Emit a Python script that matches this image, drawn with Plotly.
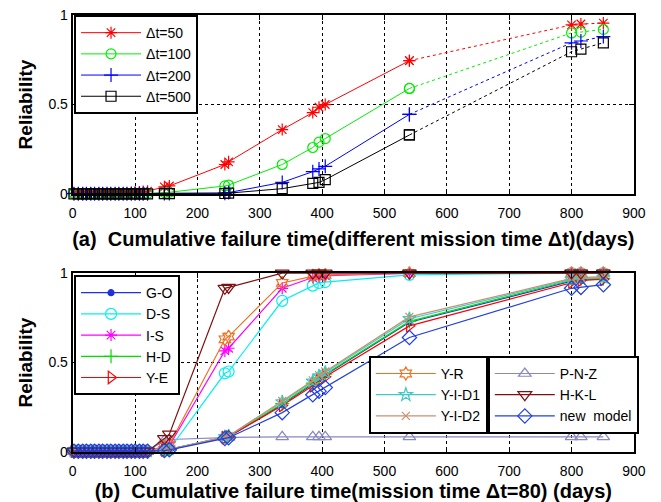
import plotly.graph_objects as go

# ---------------- data ----------------
times = [2, 9, 16, 22, 29, 35, 42, 48, 55, 61, 68, 74, 81, 87, 94, 100, 107, 113, 120,
         147, 155, 244, 250, 336, 385, 395, 405, 540, 800, 815, 851]
split_idx = 27  # index of t=540, after which lines are dotted in panel (a)

# panel (a): different mission time
dt50 = [0.005, 0.005, 0.005, 0.005, 0.005, 0.005, 0.005, 0.005, 0.005, 0.005, 0.005, 0.005, 0.005, 0.005,
        0.008, 0.010, 0.012, 0.014, 0.016, 0.040, 0.045, 0.165, 0.180, 0.360, 0.455, 0.485, 0.500,
        0.745, 0.945, 0.950, 0.955]
dt100 = [0.003, 0.003, 0.003, 0.003, 0.003, 0.003, 0.003, 0.003, 0.003, 0.003, 0.003, 0.003, 0.003, 0.003,
         0.003, 0.003, 0.003, 0.003, 0.003, 0.008, 0.010, 0.045, 0.050, 0.165, 0.260, 0.290, 0.310,
         0.590, 0.900, 0.905, 0.920]
dt200 = [0.002, 0.002, 0.002, 0.002, 0.002, 0.002, 0.002, 0.002, 0.002, 0.002, 0.002, 0.002, 0.002, 0.002,
         0.002, 0.002, 0.002, 0.002, 0.002, 0.003, 0.003, 0.005, 0.008, 0.065, 0.125, 0.140, 0.155,
         0.445, 0.845, 0.855, 0.880]
dt500 = [0.001, 0.001, 0.001, 0.001, 0.001, 0.001, 0.001, 0.001, 0.001, 0.001, 0.001, 0.001, 0.001, 0.001,
         0.001, 0.001, 0.001, 0.001, 0.001, 0.002, 0.002, 0.003, 0.005, 0.030, 0.060, 0.065, 0.080,
         0.330, 0.795, 0.810, 0.845]

# panel (b): models, mission time 80
go_m = [0.004, 0.004, 0.004, 0.004, 0.004, 0.004, 0.004, 0.004, 0.004, 0.004, 0.004, 0.004, 0.004, 0.004,
        0.004, 0.004, 0.004, 0.004, 0.004, 0.010, 0.015, 0.080, 0.085, 0.265, 0.380, 0.410, 0.430,
        0.725, 0.955, 0.960, 0.968]
ds_m = [0.005, 0.005, 0.005, 0.005, 0.005, 0.005, 0.005, 0.005, 0.005, 0.005, 0.005, 0.005, 0.005, 0.005,
        0.005, 0.005, 0.005, 0.005, 0.005, 0.010, 0.015, 0.440, 0.450, 0.845, 0.930, 0.945, 0.950,
        0.990, 1.000, 1.000, 1.000]
is_m = [0.005, 0.005, 0.005, 0.005, 0.005, 0.005, 0.005, 0.005, 0.005, 0.005, 0.005, 0.005, 0.005, 0.005,
        0.005, 0.005, 0.005, 0.005, 0.005, 0.030, 0.035, 0.565, 0.580, 0.915, 0.975, 0.980, 0.985,
        0.998, 1.000, 1.000, 1.000]
hd_m = [0.004, 0.004, 0.004, 0.004, 0.004, 0.004, 0.004, 0.004, 0.004, 0.004, 0.004, 0.004, 0.004, 0.004,
        0.004, 0.004, 0.004, 0.004, 0.004, 0.010, 0.015, 0.082, 0.088, 0.270, 0.385, 0.415, 0.435,
        0.730, 0.960, 0.965, 0.970]
ye_m = [0.004, 0.004, 0.004, 0.004, 0.004, 0.004, 0.004, 0.004, 0.004, 0.004, 0.004, 0.004, 0.004, 0.004,
        0.004, 0.004, 0.004, 0.004, 0.004, 0.010, 0.015, 0.080, 0.085, 0.260, 0.370, 0.400, 0.420,
        0.705, 0.950, 0.960, 0.965]
yr_m = [0.005, 0.005, 0.005, 0.005, 0.005, 0.005, 0.005, 0.005, 0.005, 0.005, 0.005, 0.005, 0.005, 0.005,
        0.005, 0.005, 0.005, 0.005, 0.005, 0.030, 0.040, 0.630, 0.645, 0.945, 0.985, 0.990, 0.990,
        1.000, 1.000, 1.000, 1.000]
yid1_m = [0.004, 0.004, 0.004, 0.004, 0.004, 0.004, 0.004, 0.004, 0.004, 0.004, 0.004, 0.004, 0.004, 0.004,
          0.004, 0.004, 0.004, 0.004, 0.004, 0.010, 0.015, 0.085, 0.090, 0.280, 0.395, 0.425, 0.445,
          0.745, 0.965, 0.970, 0.975]
yid2_m = [0.004, 0.004, 0.004, 0.004, 0.004, 0.004, 0.004, 0.004, 0.004, 0.004, 0.004, 0.004, 0.004, 0.004,
          0.004, 0.004, 0.004, 0.004, 0.004, 0.010, 0.015, 0.085, 0.090, 0.285, 0.400, 0.430, 0.450,
          0.755, 0.970, 0.975, 0.980]
pnz_m = [0.004, 0.004, 0.004, 0.004, 0.004, 0.004, 0.004, 0.004, 0.004, 0.004, 0.004, 0.004, 0.004, 0.004,
         0.004, 0.004, 0.004, 0.004, 0.004, 0.065, 0.070, 0.080, 0.082, 0.085, 0.085, 0.085, 0.085,
         0.085, 0.085, 0.085, 0.085]
hkl_m = [0.005, 0.005, 0.005, 0.005, 0.005, 0.005, 0.005, 0.005, 0.005, 0.005, 0.005, 0.005, 0.005, 0.005,
         0.005, 0.005, 0.005, 0.005, 0.005, 0.075, 0.100, 0.915, 0.920, 1.000, 1.000, 1.000, 1.000,
         1.000, 1.000, 1.000, 1.000]
new_m = [0.004, 0.004, 0.004, 0.004, 0.004, 0.004, 0.004, 0.004, 0.004, 0.004, 0.004, 0.004, 0.004, 0.004,
         0.004, 0.004, 0.004, 0.004, 0.004, 0.008, 0.012, 0.075, 0.080, 0.220, 0.320, 0.340, 0.360,
         0.640, 0.915, 0.920, 0.935]

x_ticks = [0, 100, 200, 300, 400, 500, 600, 700, 800, 900]
y_ticks = [0, 0.5, 1]
y_tick_text = ["0", "0.5", "1"]

FONT = "Liberation Sans, Arial, sans-serif"

fig = go.Figure()

# ---------------- panel (a) ----------------
panel_a = [
    ("Δt=50", dt50, "#ff0000", "asterisk-open"),
    ("Δt=100", dt100, "#00ee00", "circle-open"),
    ("Δt=200", dt200, "#0000ff", "cross-thin-open"),
    ("Δt=500", dt500, "#000000", "square-open"),
]
for name, vals, col, sym in panel_a:
    fig.add_trace(go.Scatter(
        x=times[:split_idx + 1], y=vals[:split_idx + 1], mode="lines+markers", name=name,
        line=dict(color=col, width=1), legendgroup=name, legend="legend",
        marker=dict(symbol=sym, size=10, color=col, line=dict(width=1.2, color=col)),
        cliponaxis=False, xaxis="x", yaxis="y"))
    fig.add_trace(go.Scatter(
        x=times[split_idx:], y=vals[split_idx:], mode="lines+markers", name=name,
        line=dict(color=col, width=1, dash="dot"), legendgroup=name, showlegend=False,
        marker=dict(symbol=sym, size=10, color=col, line=dict(width=1.2, color=col)),
        cliponaxis=False, xaxis="x", yaxis="y"))

# ---------------- panel (b) ----------------
panel_b = [
    ("P-N-Z", pnz_m, "#8888c4", "triangle-up-open", "legend4", 11),
    ("G-O", go_m, "#2030e0", "circle", "legend2", 6),
    ("D-S", ds_m, "#00f0f0", "circle-open", "legend2", 11),
    ("I-S", is_m, "#ff00ff", "asterisk-open", "legend2", 10),
    ("H-D", hd_m, "#00dd00", "cross-thin-open", "legend2", 10),
    ("Y-E", ye_m, "#ff0000", "triangle-right-open", "legend2", 11),
    ("Y-R", yr_m, "#f07020", "hexagram-open", "legend3", 10),
    ("Y-I-D1", yid1_m, "#40c8c8", "star-open", "legend3", 10),
    ("Y-I-D2", yid2_m, "#c89070", "x-thin-open", "legend3", 8),
    ("H-K-L", hkl_m, "#801010", "triangle-down-open", "legend4", 12),
    ("new  model", new_m, "#2040e0", "diamond-open", "legend4", 11),
]
for name, vals, col, sym, leg, ms in panel_b:
    fig.add_trace(go.Scatter(
        x=times, y=vals, mode="lines+markers", name=name, legend=leg, legendgroup=name,
        line=dict(color=col, width=1.2),
        marker=dict(symbol=sym, size=ms, color=col, line=dict(width=1.2, color=col)),
        cliponaxis=False, xaxis="x2", yaxis="y2"))

# ---------------- layout ----------------
axis_common = dict(
    range=[0, 900], tickvals=x_ticks, showline=True, linecolor="black", linewidth=2,
    mirror="ticks", ticks="inside", ticklen=5, tickcolor="black",
    showgrid=True, gridcolor="black", griddash="dot", gridwidth=1, zeroline=False,
    tickfont=dict(family=FONT, size=14, color="black"), automargin=False,
    ticklabelstandoff=5,
)
yaxis_common = dict(
    range=[0, 1], tickvals=y_ticks, ticktext=y_tick_text, showline=True, linecolor="black",
    linewidth=2, mirror="ticks", ticks="inside", ticklen=5, tickcolor="black",
    showgrid=True, gridcolor="black", griddash="dot", gridwidth=1, zeroline=False,
    tickfont=dict(family=FONT, size=14, color="black"), automargin=False,
    title=dict(text="<b>Reliability</b>", font=dict(family=FONT, size=19, color="black"), standoff=11),
)

legend_common = dict(
    bgcolor="white", bordercolor="black", borderwidth=2, xanchor="left", yanchor="top",
    font=dict(family=FONT, size=14, color="black"), tracegroupgap=0, itemclick=False,
    itemwidth=60,
)

fig.update_layout(
    width=661, height=502, margin=dict(l=0, r=0, t=0, b=0, autoexpand=False),
    paper_bgcolor="white", plot_bgcolor="white",
    xaxis=dict(domain=[0.110, 0.959], anchor="y",
               title=dict(text="<b>(a)  Cumulative failure time(different mission time Δt)(days)</b>",
                          font=dict(family=FONT, size=20, color="black"), standoff=12),
               **axis_common),
    yaxis=dict(domain=[0.6135, 0.970], anchor="x", **yaxis_common),
    xaxis2=dict(domain=[0.110, 0.959], anchor="y2",
                title=dict(text="<b>(b)  Cumulative failure time(mission time Δt=80) (days)</b>",
                           font=dict(family=FONT, size=20, color="black"), standoff=7),
                **axis_common),
    yaxis2=dict(domain=[0.0996, 0.456], anchor="x2", **yaxis_common),
    legend=dict(x=0.112, y=0.970, **legend_common),
    legend2=dict(x=0.112, y=0.452, **legend_common),
    legend3=dict(x=0.558, y=0.291, **legend_common),
    legend4=dict(x=0.738, y=0.291, **legend_common),
)

fig.write_html("out.html", config={"displayModeBar": False},
               post_script="document.body.style.margin='0px';")
